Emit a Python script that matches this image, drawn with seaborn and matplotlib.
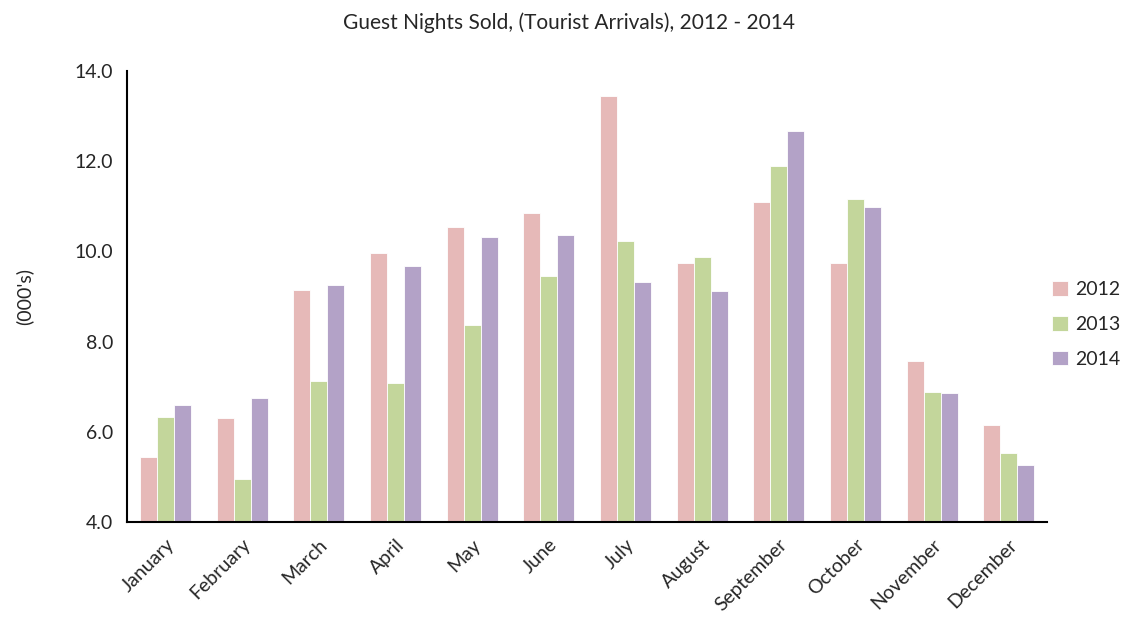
import numpy as np
import pandas as pd
import matplotlib
matplotlib.use("Agg")
import matplotlib.pyplot as plt
import seaborn as sns
from matplotlib.ticker import FixedLocator, MultipleLocator

months = ["January", "February", "March", "April", "May", "June", "July",
          "August", "September", "October", "November", "December"]
years = ["2012", "2013", "2014"]
v2012 = [5.44, 6.31, 9.14, 9.96, 10.54, 10.85, 13.45, 9.75, 11.10, 9.74, 7.57, 6.15]
v2013 = [6.33, 4.95, 7.12, 7.08, 8.37, 9.46, 10.23, 9.88, 11.89, 11.16, 6.89, 5.53]
v2014 = [6.60, 6.76, 9.25, 9.68, 10.32, 10.37, 9.32, 9.12, 12.68, 10.98, 6.86, 5.26]
colors = ["#E6B9B8", "#C3D69B", "#B3A2C7"]

df = pd.DataFrame({
    "month": months * 3,
    "year": [years[0]] * 12 + [years[1]] * 12 + [years[2]] * 12,
    "value": v2012 + v2013 + v2014,
})

sns.set_style("white")
plt.rcParams['font.family'] = ['Lato', 'DejaVu Sans']

fig = plt.figure(figsize=(11.22, 6.18), dpi=100)
ax = fig.add_axes([0.1132, 0.1553, 0.82, 0.7298])

sns.barplot(data=df, x="month", y="value", hue="year", order=months,
            hue_order=years, palette=colors, width=0.665, ax=ax,
            edgecolor="white", linewidth=0.6, saturation=1)

ax.set_ylim(4.0, 14.0)
ax.set_xlim(-0.5, 11.5)
ax.yaxis.set_major_locator(MultipleLocator(2.0))
ax.set_yticklabels([f"{t:.1f}" for t in ax.get_yticks()])

ax.set_xticks(range(12))
ax.set_xticklabels(months, rotation=45, ha="right", rotation_mode="anchor", fontsize=14)
ax.xaxis.set_minor_locator(FixedLocator(np.arange(-0.5, 12.0, 1.0)))
ax.tick_params(axis="x", which="major", length=0, pad=10)
ax.tick_params(axis="x", which="minor", length=6, width=1.5, color="black", direction="out")
ax.tick_params(axis="y", which="major", length=6, width=1.5, color="black", direction="out",
               labelsize=14, pad=4)

for s in ["top", "right"]:
    ax.spines[s].set_visible(False)
for s in ["left", "bottom"]:
    ax.spines[s].set_color("black")
    ax.spines[s].set_linewidth(1.5)

ax.set_xlabel("")
ax.set_ylabel("(000's)", fontsize=14, labelpad=30)
fig.text(0.507, 0.964, "Guest Nights Sold, (Tourist Arrivals), 2012 - 2014",
         fontsize=15, ha="center", va="center")

handles, labels = ax.get_legend_handles_labels()
ax.legend(handles, labels, loc="center left", bbox_to_anchor=(0.938, 0.475),
          bbox_transform=fig.transFigure, frameon=False, fontsize=14,
          borderaxespad=0, borderpad=0,
          handlelength=0.8, handleheight=0.8, handletextpad=0.35, labelspacing=0.9)

fig.savefig("out.png", dpi=100)
